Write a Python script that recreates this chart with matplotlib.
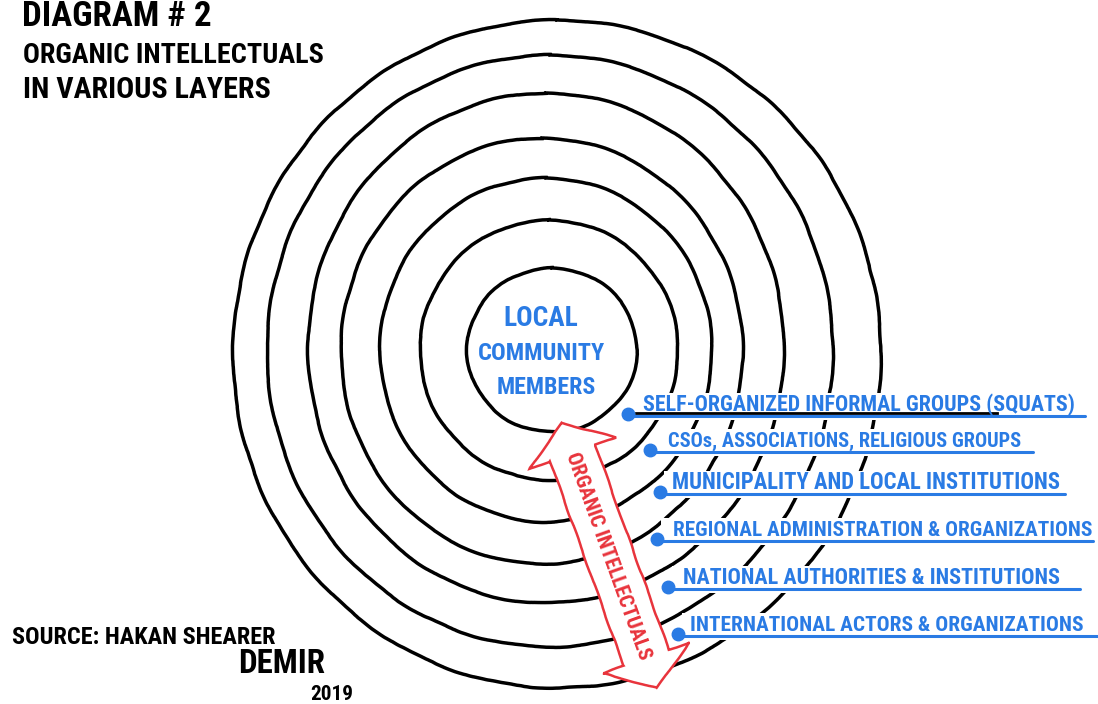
import numpy as np
import matplotlib
matplotlib.use("Agg")
import matplotlib.pyplot as plt
from matplotlib import font_manager
from matplotlib.patches import Ellipse, Polygon, Rectangle

# rings, inner -> outer (pixel coordinates of the sketch)
ring_cx = [552, 549, 546, 542, 546, 550, 557]
ring_cy = [350, 350, 350, 351, 348, 351, 354]
ring_rx = [85, 129, 166, 201, 238, 283, 324]
ring_ry = [82, 130, 172, 213, 255, 296, 334]

center_words = ["LOCAL", "COMMUNITY", "MEMBERS"]
center_x0 = [503, 478, 497]
center_x1 = [578, 606, 597]
center_base = [326, 360, 394]

layer_labels = [
    "SELF-ORGANIZED INFORMAL GROUPS (SQUATS)",
    "CSOs, ASSOCIATIONS, RELIGIOUS GROUPS",
    "MUNICIPALITY AND LOCAL INSTITUTIONS",
    "REGIONAL ADMINISTRATION & ORGANIZATIONS",
    "NATIONAL AUTHORITIES & INSTITUTIONS",
    "INTERNATIONAL ACTORS & ORGANIZATIONS",
]
dot_x = [628, 650, 660, 657, 668, 678]
line_y = [416, 452, 494, 541, 589, 636]
text_x0 = [643, 668, 672, 673, 683, 690]
text_x1 = [1078, 1025, 1062, 1093, 1063, 1083]
line_x1 = [1085, 1033, 1065, 1093, 1080, 1098]

# double arrow tips
arrow_tip1 = (562, 423)
arrow_tip2 = (657, 688)

BLUE = "#2a7be4"
RED = "#e8343c"

avail = {f.name for f in font_manager.fontManager.ttflist}
fam = "DejaVu Sans"
for cand in ["DejaVu Sans Condensed", "Liberation Sans Narrow", "Roboto Condensed"]:
    if cand in avail:
        fam = cand
        break
plt.rcParams["font.family"] = [fam, "DejaVu Sans"]

fig = plt.figure(figsize=(10.98, 7.04), dpi=100)
ax = fig.add_axes([0, 0, 1, 1])
ax.set_xlim(0, 1098)
ax.set_ylim(704, 0)
ax.axis("off")
renderer = fig.canvas.get_renderer()


def put(s, x0, x1, y, color="black", fs=14, **kw):
    t = ax.text(x0, y, s, color=color, fontsize=fs, ha="left", va="baseline",
                fontweight="bold", zorder=5, **kw)
    w = t.get_window_extent(renderer).width
    t.set_fontsize(fs * (x1 - x0) / w)
    return t


# rings
for cx, cy, rx, ry in zip(ring_cx, ring_cy, ring_rx, ring_ry):
    e = Ellipse((cx, cy), 2 * rx, 2 * ry, fill=False, lw=2.5, ec="black", zorder=1)
    e.set_sketch_params(scale=0.6, length=160, randomness=8)
    ax.add_patch(e)

# titles
put("DIAGRAM # 2", 22, 212, 26, fs=20)
put("ORGANIC INTELLECTUALS", 23, 325, 63)
put("IN VARIOUS LAYERS", 23, 272, 98)
put("SOURCE: HAKAN SHEARER", 12, 277, 644)
put("DEMIR", 238, 325, 673)
put("2019", 310, 353, 700)

for s, a, b, y in zip(center_words, center_x0, center_x1, center_base):
    put(s, a, b, y, color=BLUE)

# layer labels
for s, dx, ly, a, b, e in zip(layer_labels, dot_x, line_y, text_x0, text_x1, line_x1):
    ax.add_patch(Rectangle((dx + 4, ly - 23), e - dx, 27, fc="white", ec="none", zorder=2))
    ax.plot([dx + 4, e], [ly, ly], color=BLUE, lw=2.2, solid_capstyle="round", zorder=4)
    ax.plot([dx], [ly - 2], "o", color=BLUE, ms=9, zorder=4)
    put(s, a, b, ly - 5, color=BLUE)
ax.plot([dot_x[0] + 8, 997], [line_y[0] - 3, line_y[0] - 3], color="black", lw=2, zorder=3)

# hollow double-headed arrow
p1 = np.array(arrow_tip1, float)
p2 = np.array(arrow_tip2, float)
L = np.hypot(*(p2 - p1))
u = (p2 - p1) / L
v = np.array([u[1], -u[0]])
h, hw, sw = 32, 46, 24
pts_st = [(0, 0), (h, hw), (h, sw), (L - h, sw), (L - h, hw), (L, 0),
          (L - h, -hw), (L - h, -sw), (h, -sw), (h, -hw)]
pts = [p1 + s * u + t * v for s, t in pts_st]
arr = Polygon(pts, closed=True, fc="white", ec=RED, lw=1.8, zorder=3)
arr.set_sketch_params(scale=0.5, length=100, randomness=6)
ax.add_patch(arr)

ang = -np.degrees(np.arctan2(u[1], u[0]))
mid = p1 + 0.5 * L * u - 2 * v
t = ax.text(mid[0], mid[1], "ORGANIC INTELLECTUALS", color=RED, fontsize=12,
            rotation=ang, ha="center", va="center", rotation_mode="anchor",
            fontweight="bold", zorder=5)
w = t.get_window_extent(renderer)
length = np.hypot(w.width, w.height)
t.set_fontsize(12 * 226 / (length * 0.98))

fig.savefig("out.png", dpi=100)
